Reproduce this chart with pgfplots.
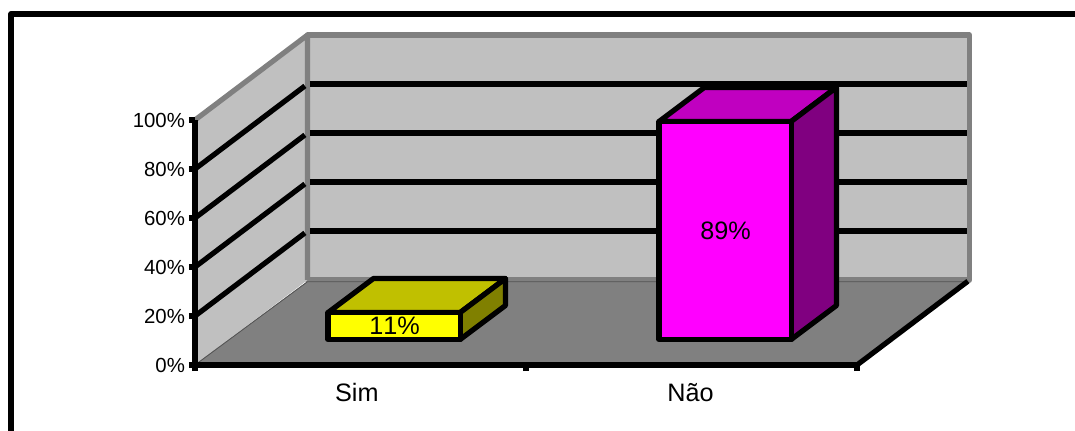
\documentclass[border=0pt]{standalone}
\usepackage{pgfplots}
\pgfplotsset{compat=1.18}
\usepackage{fontspec}
\setmainfont[Kerning=Off]{Liberation Sans}
\definecolor{wall}{HTML}{C0C0C0}
\definecolor{edge}{HTML}{808080}
\definecolor{yfront}{HTML}{FFFF00}
\definecolor{ytop}{HTML}{C0C000}
\definecolor{yside}{HTML}{808000}
\definecolor{mfront}{HTML}{FF00FF}
\definecolor{mtop}{HTML}{C000C0}
\definecolor{mside}{HTML}{800080}
\begin{document}
\begin{tikzpicture}[x=0.75pt,y=0.75pt]
\path[use as bounding box,clip] (0,0) rectangle (1075,430);
\fill[white] (0,0) rectangle (1075,430);
% outer frame, running off the right and bottom edges
\draw[line width=4.4pt,line join=round] (11.2,-10) -- (11.2,416.2) -- (1085,416.2);
\begin{axis}[
  at={(146.25pt,48.75pt)},anchor=south west,scale only axis,
  width=496.5pt,height=183.75pt,
  xmin=0,xmax=2,ymin=0,ymax=100,clip=false,
  axis on top,no markers,
  axis x line=bottom,axis y line=left,
  axis line style={line width=3.9pt,-,line cap=butt},
  xtick={0,1,2},xticklabels={},
  extra x ticks={0.489,1.497},extra x tick labels={Sim,Não},
  extra x tick style={major tick length=0pt,tick style={draw=none}},
  ytick={0,20,40,60,80,100},
  yticklabels={0\%,20\%,40\%,60\%,80\%,100\%},
  tick align=outside,
  major tick length=4.5pt,
  tick style={line width=3.9pt,black},
  yticklabel style={font=\fontsize{15.3}{18}\selectfont,black,xshift=0.5pt},
  xticklabel style={font=\fontsize{18.9}{22}\selectfont,black,yshift=-10pt},
]
% back wall, side wall and floor
\addplot[fill=wall,draw=edge,line width=3.9pt,line join=round] coordinates {(0.340,34.7)(2.340,34.7)(2.340,134.7)(0.340,134.7)} --cycle;
\addplot[fill=wall,draw=none] coordinates {(0,0)(0,100)(0.340,134.7)(0.340,34.7)} --cycle;
\addplot[draw=edge,line width=3.9pt,line join=round] coordinates {(0,100)(0.340,134.7)(0.340,34.7)};
\addplot[fill=edge,draw=edge,line width=0.6pt] coordinates {(0,0)(2,0)(2.340,34.0)(0.340,34.0)} --cycle;
\addplot[draw=black!35!edge,line width=0.6pt] coordinates {(0,0)(0.340,34.0)(2.330,34.0)};
\addplot[draw=black,line width=3.9pt] coordinates {(2,0)(2.335,34.2)};
% gridlines on both walls
\addplot[black,line width=3.9pt] coordinates {(0,20)(0.332,53.9)};
\addplot[black,line width=3.9pt] coordinates {(0,40)(0.332,73.9)};
\addplot[black,line width=3.9pt] coordinates {(0,60)(0.332,93.9)};
\addplot[black,line width=3.9pt] coordinates {(0,80)(0.332,113.9)};
\addplot[black,line width=3.9pt] coordinates {(0.347,54.7)(2.332,54.7)};
\addplot[black,line width=3.9pt] coordinates {(0.347,74.7)(2.332,74.7)};
\addplot[black,line width=3.9pt] coordinates {(0.347,94.7)(2.332,94.7)};
\addplot[black,line width=3.9pt] coordinates {(0.347,114.7)(2.332,114.7)};
% Sim: 11%
\addplot[fill=ytop,draw=black,line width=3.9pt,line join=round] coordinates {(0.402,21.4)(0.801,21.4)(0.938,35.3)(0.539,35.3)} --cycle;
\addplot[fill=yside,draw=black,line width=3.9pt,line join=round] coordinates {(0.801,10.4)(0.801,21.4)(0.938,35.3)(0.938,24.3)} --cycle;
\addplot[fill=yfront,draw=black,line width=3.9pt,line join=round] coordinates {(0.402,10.4)(0.801,10.4)(0.801,21.4)(0.402,21.4)} --cycle;
% Não: 89%
\addplot[fill=mtop,draw=black,line width=3.9pt,line join=round] coordinates {(1.402,99.4)(1.801,99.4)(1.938,113.3)(1.539,113.3)} --cycle;
\addplot[fill=mside,draw=black,line width=3.9pt,line join=round] coordinates {(1.801,10.4)(1.801,99.4)(1.938,113.3)(1.938,24.3)} --cycle;
\addplot[fill=mfront,draw=black,line width=3.9pt,line join=round] coordinates {(1.402,10.4)(1.801,10.4)(1.801,99.4)(1.402,99.4)} --cycle;
% value labels centred on the front faces
\node[font=\fontsize{18.9}{22}\selectfont] at (axis cs:0.603,15.9) {11\%};
\node[font=\fontsize{18.9}{22}\selectfont] at (axis cs:1.603,54.9) {89\%};
\end{axis}
\end{tikzpicture}
\end{document}
